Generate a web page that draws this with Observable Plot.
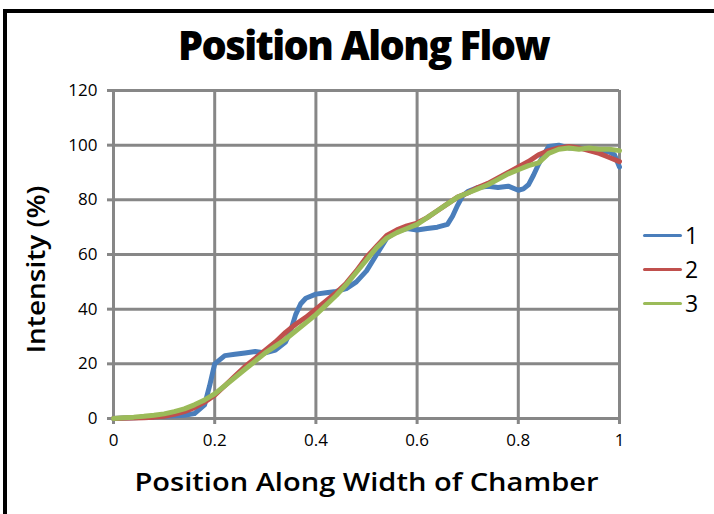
<!DOCTYPE html>
<html>
<head>
<meta charset="utf-8">
<script src="https://cdn.jsdelivr.net/npm/d3@7"></script>
<script src="https://cdn.jsdelivr.net/npm/@observablehq/plot@0.6"></script>
<style>
  html, body { margin: 0; padding: 0; background: #fff; }
  body { width: 714px; height: 514px; position: relative; overflow: hidden; font-family: "Open Sans", sans-serif; }
  #border { position: absolute; left: 3px; top: 9px; width: 740px; height: 520px; border-top: 4px solid #000; border-left: 4px solid #000; }
  #title { position: absolute; left: 178px; top: 25px; white-space: nowrap; font-family: "Open Sans", sans-serif; font-weight: 800; font-size: 40px; letter-spacing: -1.6px; line-height: 1; color: #000; transform-origin: 0 0; }
  #chart { position: absolute; left: 0; top: 80px; }
  #chart svg { overflow: visible; }
  #chart text { fill: #000 !important; }
  #chart g[aria-label="x-axis tick label"] text, #chart g[aria-label="y-axis tick label"] text { font-size: 17px !important; font-family: "Open Sans", sans-serif !important; }
  #chart g[aria-label="x-axis label"] text, #chart g[aria-label="y-axis label"] text { font-size: 26px !important; font-weight: 600 !important; font-family: "Open Sans", sans-serif !important; }
  #legend { position: absolute; left: 643px; top: 0; }
  .item { position: absolute; left: 0; width: 80px; height: 30px; }
  .item .sw { position: absolute; left: 0; width: 39px; height: 3px; border-radius: 1.5px; top: 14px; }
  .item .lb { position: absolute; left: 42px; top: 0; font-size: 23px; line-height: 30px; font-family: "Open Sans", sans-serif; color: #000; }
</style>
</head>
<body>
<div id="border"></div>
<div id="title"><span id="titleText">Position Along Flow</span></div>
<div id="chart"></div>
<div id="legend"></div>
<script>
const seriesNames = ["1", "2", "3"];
const seriesColors = ["#4a7ebb", "#c0504d", "#9bbb59"];
const xTicks = [0, 0.2, 0.4, 0.6, 0.8, 1];
const xTickLabels = ["0", "0.2", "0.4", "0.6", "0.8", "1"];
const yTicks = [0, 20, 40, 60, 80, 100, 120];

const pos1 = [0,0.02,0.04,0.06,0.08,0.10,0.12,0.14,0.16,0.18,0.19,0.20,0.22,0.24,0.26,0.28,0.30,0.32,0.34,0.35,0.36,0.37,0.38,0.40,0.42,0.44,0.46,0.48,0.50,0.52,0.54,0.56,0.58,0.60,0.62,0.64,0.66,0.67,0.68,0.69,0.70,0.72,0.74,0.76,0.78,0.80,0.81,0.82,0.83,0.84,0.85,0.86,0.88,0.90,0.92,0.94,0.96,0.98,0.99,1.00];
const int1 = [0,0.2,0.3,0.5,0.6,0.8,1,1.2,1.8,5,12,20,23,23.5,24,24.5,24,25,28,32,38,42,44,45.5,46,46.5,47.5,50,54,60,66,68.5,69.5,69,69.5,70,71,74,78,81.5,83,84.5,85,84.5,85,83.5,84,85.5,89,93,96.5,99.5,100,99,99,98.5,98,97.5,96.5,92];

const pos2 = [0,0.02,0.04,0.06,0.08,0.10,0.12,0.14,0.16,0.18,0.20,0.22,0.24,0.26,0.28,0.30,0.32,0.34,0.36,0.38,0.40,0.42,0.44,0.46,0.48,0.50,0.52,0.54,0.56,0.58,0.60,0.62,0.64,0.66,0.68,0.70,0.72,0.74,0.76,0.78,0.80,0.82,0.84,0.86,0.88,0.90,0.92,0.94,0.96,0.98,1.00];
const int2 = [0,0.1,0.2,0.3,0.5,0.8,1.5,2.5,4,6,8.5,12,15.5,19,22,25,28,31.5,34.5,37,40,43,46,49.5,54,59,63,67,69,70.5,71.5,73.5,76,78.5,81,82.5,84.5,86,88,90,92,94,96.5,98,99,99.5,99,98,97,95.5,94];

const pos3 = pos2;
const int3 = [0,0.3,0.5,0.8,1.2,1.7,2.5,3.5,5,6.8,9,12,15,18,21,24,26.5,29,32,35,38,41.5,45,49,53.5,58,62.5,66,68,69.5,71,73.5,76,78.5,81,82.5,84,85.5,87.5,89.5,91,92.5,93.5,97,98.5,99,98.5,99,98.5,98.5,98];

const table = [
  ...pos1.map((x, i) => ({series: "1", x, y: int1[i]})),
  ...pos2.map((x, i) => ({series: "2", x, y: int2[i]})),
  ...pos3.map((x, i) => ({series: "3", x, y: int3[i]}))
];

const grid = "#878787";
const plot = Plot.plot({
  width: 714,
  height: 434,
  marginLeft: 113,
  marginRight: 95,
  marginTop: 10,
  marginBottom: 96,
  x: {domain: [0, 1]},
  y: {domain: [0, 120]},
  color: {domain: seriesNames, range: seriesColors},
  style: {background: "transparent", overflow: "visible", fontSize: "17px", fontFamily: "Open Sans, sans-serif", color: "#000"},
  marks: [
    Plot.gridX(xTicks, {stroke: grid, strokeOpacity: 1, strokeWidth: 3}),
    Plot.gridY(yTicks, {stroke: grid, strokeOpacity: 1, strokeWidth: 3}),
    Plot.axisX(xTicks, {tickSize: 6, tickPadding: 9, stroke: grid, strokeWidth: 3, fill: "#000", fontSize: 17, tickFormat: (d, i) => xTickLabels[i],
      label: null}),
    Plot.axisX({label: "Position Along Width of Chamber", ticks: [], tickSize: 0, labelAnchor: "center", labelArrow: "none", labelOffset: 72, fill: "#000"}),
    Plot.axisY(yTicks, {tickSize: 6, tickPadding: 10, stroke: grid, strokeWidth: 3, fill: "#000", fontSize: 17,
      label: "Intensity (%)", labelAnchor: "center", labelArrow: "none", labelOffset: 87}),
    Plot.line(table, {x: "x", y: "y", z: "series", stroke: "series", strokeWidth: 5, curve: "linear"})
  ]
});
document.getElementById("chart").appendChild(plot);

// stretch axis titles to the reference's text widths
const xl = plot.querySelector('g[aria-label="x-axis label"] text');
if (xl) { xl.setAttribute("textLength", 464); xl.setAttribute("lengthAdjust", "spacingAndGlyphs"); }
const yl = plot.querySelector('g[aria-label="y-axis label"] text');
if (yl) { yl.setAttribute("textLength", 168); yl.setAttribute("lengthAdjust", "spacingAndGlyphs"); yl.setAttribute("dx", -15); }

// title width
const tt = document.getElementById("titleText");
const w = tt.getBoundingClientRect().width;
document.getElementById("title").style.transform = `scaleX(${371 / w})`;

const legend = document.getElementById("legend");
const legendTops = [220, 254, 288];
seriesNames.forEach((n, i) => {
  const it = document.createElement("div");
  it.className = "item";
  it.style.top = legendTops[i] + "px";
  it.innerHTML = `<div class="sw" style="background:${seriesColors[i]}"></div><div class="lb">${n}</div>`;
  legend.appendChild(it);
});
</script>
</body>
</html>
